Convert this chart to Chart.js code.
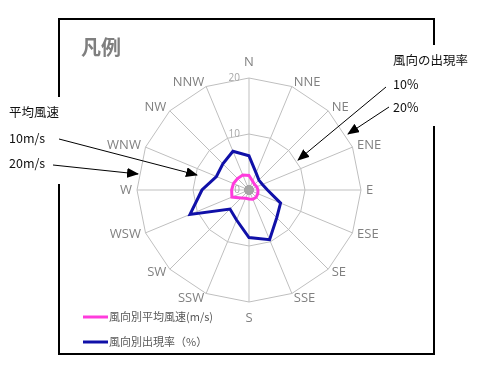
<!DOCTYPE html>
<html>
<head>
<meta charset="utf-8">
<script src="https://cdn.jsdelivr.net/npm/chart.js@4"></script>
<style>
  html, body { margin: 0; padding: 0; background: #fff; }
  #wrap { position: relative; width: 493px; height: 368px; overflow: hidden; }
  #chart { position: absolute; left: 0; top: 0; }
  svg { position: absolute; left: 0; top: 0; }
  .txt { position: absolute; font-family: "Noto Sans CJK JP", sans-serif; white-space: nowrap; line-height: 1; }
  .note { font-size: 12.5px; color: #111; }
  .title { font-size: 20px; font-weight: bold; color: #7f7f7f; }
  .leg { font-size: 11px; color: #595959; }
</style>
</head>
<body>
<div id="wrap">
  <canvas id="chart" width="493" height="368"></canvas>
  <svg width="493" height="368">
    <defs>
      <marker id="head" markerWidth="12" markerHeight="10" refX="11" refY="5" orient="auto" markerUnits="userSpaceOnUse">
        <path d="M0,0 L12,5 L0,10 z" fill="#000"/>
      </marker>
    </defs>
    <!-- frame with gaps -->
    <g stroke="#000" stroke-width="2" fill="none">
      <polyline points="59,97 59,19 434,19 434,45"/>
      <polyline points="434,126 434,354 59,354 59,184"/>
    </g>
    <!-- arrows -->
    <g stroke="#000" stroke-width="1" marker-end="url(#head)">
      <line x1="386" y1="87" x2="298" y2="160"/>
      <line x1="389" y1="107" x2="348" y2="134"/>
      <line x1="59" y1="139" x2="197" y2="175"/>
      <line x1="53" y1="165" x2="138" y2="174"/>
    </g>
    <!-- legend samples -->
    <line x1="83" y1="317" x2="108" y2="317" stroke="#ff3cdc" stroke-width="3"/>
    <line x1="83" y1="342" x2="108" y2="342" stroke="#1010a8" stroke-width="3"/>
  </svg>
  <div class="txt title" style="left:81px; top:37px;">凡例</div>
  <div class="txt note" style="left:393px; top:54px;">風向の出現率</div>
  <div class="txt note" style="left:393px; top:78px;">10%</div>
  <div class="txt note" style="left:393px; top:101px;">20%</div>
  <div class="txt note" style="left:9px; top:106px;">平均風速</div>
  <div class="txt note" style="left:9px; top:132px;">10m/s</div>
  <div class="txt note" style="left:9px; top:157px;">20m/s</div>
  <div class="txt leg" style="left:109px; top:311px;">風向別平均風速(m/s)</div>
  <div class="txt leg" style="left:109px; top:336px;">風向別出現率（%）</div>
</div>
<script>
const directions = ['N','NNE','NE','ENE','E','ESE','SE','SSE','S','SSW','SW','WSW','W','WNW','NW','NNW'];
const avgSpeed = [2.6, 1.7, 1.4, 1.5, 1.6, 1.7, 1.8, 1.8, 1.6, 1.6, 2.0, 3.3, 3.1, 3.0, 2.9, 2.9];
const frequency = [6.1, 3.3, 2.5, 2.6, 3.3, 6.1, 7.0, 9.6, 8.5, 5.8, 4.8, 11.4, 8.4, 6.3, 6.6, 7.5];
const tickValues = [0, 10, 20];
const centerDot = directions.map(d => 0);

// ticks left of the N axis, direction labels middle-aligned like the original
const scaleLabels = {
    id: 'scaleLabels',
    afterDatasetsDraw(chart) {
        let scale = chart.scales.r
        let ctx = chart.ctx
        ctx.save()
        ctx.font = '10px "Open Sans"'
        ctx.fillStyle = '#a6a6a6'
        ctx.textAlign = 'right'
        ctx.textBaseline = 'middle'
        tickValues.forEach(v => {
            let r = scale.getDistanceFromCenterForValue(v)
            ctx.fillText(String(v), scale.xCenter - 9, scale.yCenter - r)
        })
        ctx.font = '13px "Open Sans"'
        ctx.fillStyle = '#808080'
        directions.forEach((name, i) => {
            let pos = scale.getPointPosition(i, scale.drawingArea + 5)
            let dx = pos.x - scale.xCenter
            if (Math.abs(dx) < 1) {
                pos = scale.getPointPosition(i, scale.drawingArea + 16)
                ctx.textAlign = 'center'
            } else {
                ctx.textAlign = dx > 0 ? 'left' : 'right'
            }
            ctx.fillText(name, pos.x, pos.y)
        })
        ctx.restore()
    }
}

new Chart(document.getElementById('chart'), {
    type: 'radar',
    data: {
        labels: directions,
        datasets: [
            {
                label: '風向別平均風速(m/s)',
                data: avgSpeed,
                borderColor: '#ff3cdc',
                borderWidth: 3,
                fill: false,
                pointRadius: 0
            },
            {
                label: '風向別出現率（%）',
                data: frequency,
                borderColor: '#1010a8',
                borderWidth: 3,
                fill: false,
                pointRadius: 0
            },
            {
                label: 'center',
                data: centerDot,
                showLine: false,
                pointRadius: 4.5,
                pointBackgroundColor: '#a6a6a6',
                pointBorderWidth: 0
            }
        ]
    },
    options: {
        responsive: false,
        animation: false,
        layout: { padding: { left: 137, right: 132, top: 78, bottom: 66 } },
        plugins: { legend: { display: false }, tooltip: { enabled: false } },
        elements: { line: { tension: 0 } },
        scales: {
            r: {
                min: 0,
                max: 20,
                ticks: { display: false, stepSize: 10 },
                grid: { color: '#bfbfbf', lineWidth: 1 },
                angleLines: { color: '#bfbfbf', lineWidth: 1 },
                pointLabels: { display: false }
            }
        }
    },
    plugins: [scaleLabels]
})
</script>
</body>
</html>
